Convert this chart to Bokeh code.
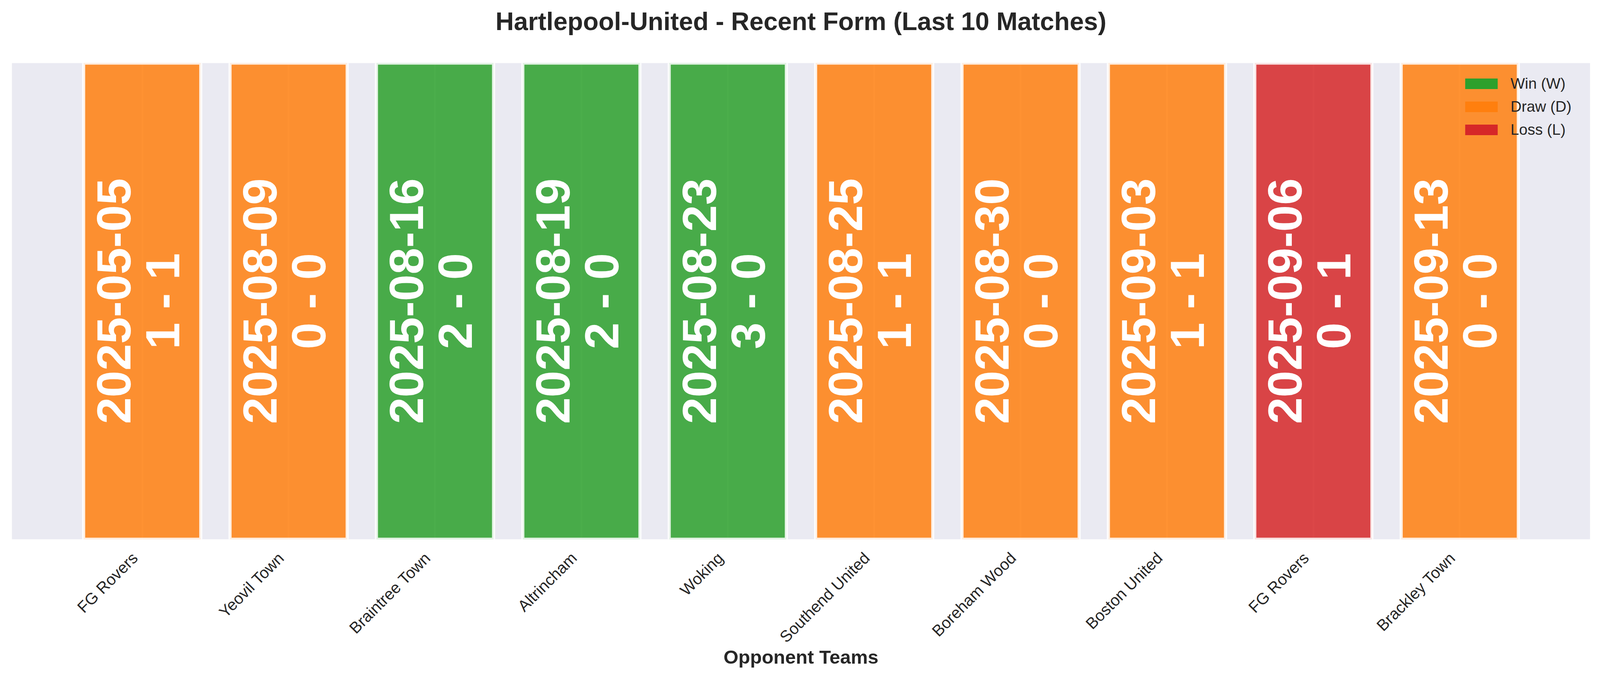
import math
from bokeh.plotting import figure
from bokeh.models import (ColumnDataSource, Range1d, FixedTicker, Legend, LegendItem, Title,
                          CDSView, GroupFilter)
from bokeh.core.properties import value
from bokeh.embed import file_html
from bokeh.resources import INLINE

# ---- data ----
opponents = ["FG Rovers", "Yeovil Town", "Braintree Town", "Altrincham", "Woking",
             "Southend United", "Boreham Wood", "Boston United", "FG Rovers", "Brackley Town"]
dates = ["2025-05-05", "2025-08-09", "2025-08-16", "2025-08-19", "2025-08-23",
         "2025-08-25", "2025-08-30", "2025-09-03", "2025-09-06", "2025-09-13"]
scores = ["1 - 1", "0 - 0", "2 - 0", "2 - 0", "3 - 0",
          "1 - 1", "0 - 0", "1 - 1", "0 - 1", "0 - 0"]
results = ["D", "D", "W", "W", "W", "D", "D", "D", "L", "D"]
bar_heights = [1, 1, 1, 1, 1, 1, 1, 1, 1, 1]

result_names = {"W": "Win (W)", "D": "Draw (D)", "L": "Loss (L)"}
result_colors = {"W": "#2ca02c", "D": "#ff7f0e", "L": "#d62728"}

FONT = "Liberation Sans"
TXT = "#262626"

xs = list(range(len(opponents)))
src = ColumnDataSource(dict(
    x=xs,
    top=bar_heights,
    zero=[0 * h for h in bar_heights],
    mid=[h / 2 for h in bar_heights],
    date=dates,
    score=scores,
    result=results,
    color=[result_colors[r] for r in results],
))

W, H = 4112, 1745
B_LEFT, B_RIGHT, B_TOP, B_BOTTOM = 30, 42, 161, 365
p = figure(width=W, height=H, output_backend="svg", toolbar_location=None,
           x_range=Range1d(-0.89, len(opponents) - 1 + 0.89), y_range=Range1d(0, 1),
           min_border_left=B_LEFT, min_border_right=B_RIGHT,
           min_border_top=B_TOP, min_border_bottom=B_BOTTOM)

p.background_fill_color = "#EAEAF2"
p.border_fill_color = "white"
p.outline_line_color = None

# title (a blank spacer panel sits between the frame and the title)
p.title = None
spacer = Title(text=" ", text_font=FONT, text_font_size="10px", standoff=58)
p.add_layout(spacer, "above")
title = Title(text="Hartlepool-United - Recent Form (Last 10 Matches)", align="center",
              vertical_align="bottom",
              text_font=FONT, text_font_size="65px", text_font_style="bold",
              text_color=TXT, standoff=0)
p.add_layout(title, "above")

# bars
p.vbar(x="x", top="top", bottom=0, width=0.8, source=src,
       fill_color="color", fill_alpha=0.85,
       line_color="white", line_width=8, line_alpha=0.85)

# text in bars
common = dict(x="x", y="mid", source=src, angle=math.pi / 2,
              text_font=value(FONT), text_font_style="bold", text_font_size="123px",
              text_color="white", text_align="center", text_baseline="middle")
p.text(text="date", x_offset=-73, **common)
p.text(text="score", x_offset=52, **common)

# legend: zero-height bars per result give solid legend patches
items = []
for key in ["W", "D", "L"]:
    view = CDSView(filter=GroupFilter(column_name="result", group=key))
    r = p.vbar(x="x", top="zero", bottom="zero", width=0.0, source=src, view=view,
               fill_color=result_colors[key], fill_alpha=1.0, line_color=None)
    items.append(LegendItem(label=result_names[key], renderers=[r]))
frame_h = H - B_TOP - B_BOTTOM
legend_h = 3 * 45 + 2 * 14
legend = Legend(items=items, location=(3710, frame_h - 30 - legend_h), margin=0, padding=0,
                glyph_width=104, glyph_height=34, label_standoff=23,
                label_height=45, spacing=14,
                label_text_font=FONT, label_text_font_size="39px", label_text_color=TXT,
                background_fill_alpha=0, border_line_alpha=0)
p.add_layout(legend)

# axes
p.yaxis.visible = False
p.ygrid.visible = False
label_shift = 0.05
tick_pos = [x - label_shift for x in xs]
p.xaxis.ticker = FixedTicker(ticks=tick_pos)
p.xaxis.major_label_overrides = {t: name for t, name in zip(tick_pos, opponents)}
p.xaxis.major_label_orientation = math.pi / 4
p.xaxis.major_label_text_font = FONT
p.xaxis.major_label_text_font_size = "41px"
p.xaxis.major_label_text_color = TXT
p.xaxis.major_label_standoff = 35
p.xaxis.axis_line_color = None
p.xaxis.major_tick_line_color = None
p.xaxis.minor_tick_line_color = None
p.xaxis.axis_label = "Opponent Teams"
p.xaxis.axis_label_text_font = FONT
p.xaxis.axis_label_text_font_size = "49px"
p.xaxis.axis_label_text_font_style = "bold"
p.xaxis.axis_label_text_color = TXT
p.xaxis.axis_label_standoff = -18

p.xgrid.ticker = FixedTicker(ticks=xs)
p.xgrid.grid_line_color = "white"
p.xgrid.grid_line_width = 4

open("out.html", "w").write(file_html(p, INLINE))
